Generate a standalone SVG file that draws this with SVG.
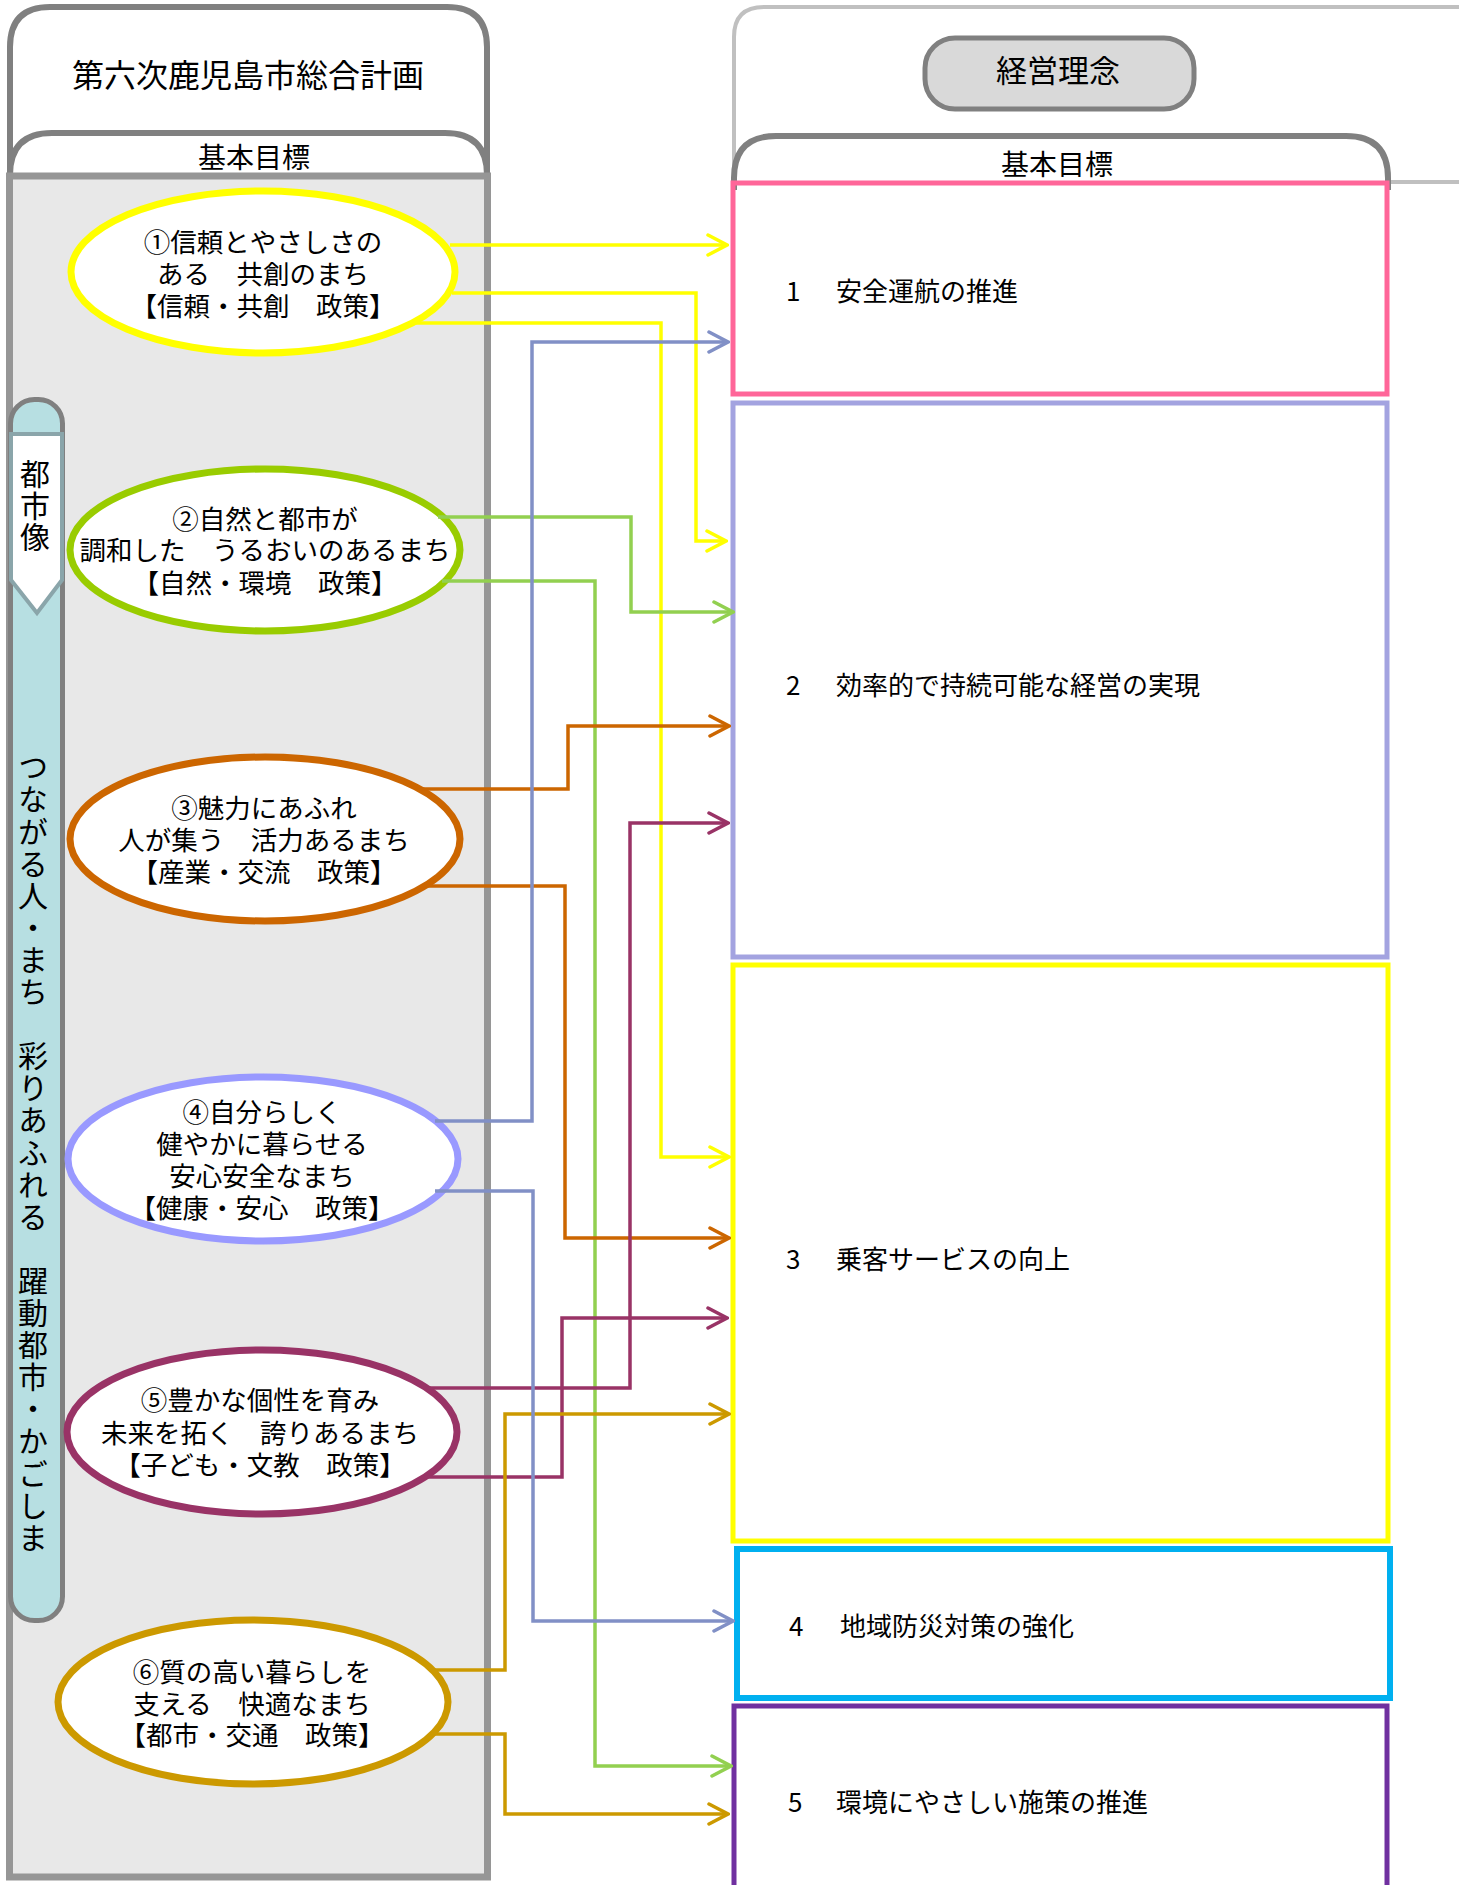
<svg xmlns="http://www.w3.org/2000/svg" width="1459" height="1885" viewBox="0 0 1459 1885">
<style>
text{font-family:"Noto Sans CJK JP","Noto Sans",sans-serif;fill:#000}
.t26{font-size:26.5px;text-anchor:middle}
.tb{font-size:26px}
.vt{font-size:30px;writing-mode:vertical-rl;text-orientation:upright}
.ell{fill:#fff;stroke-width:7}
.box{fill:none;stroke-width:5}
.c{fill:none;stroke-width:3.5}
.mk{fill:none;stroke-width:3.5;stroke-linecap:round;stroke-linejoin:miter}
</style>
<defs>
<marker id="mY" markerUnits="userSpaceOnUse" viewBox="0 0 24 24" markerWidth="24" markerHeight="24" refX="22" refY="12" orient="auto"><path class="mk" stroke="#ffff00" d="M3,2 L22,12 L3,22"/></marker>
<marker id="mG" markerUnits="userSpaceOnUse" viewBox="0 0 24 24" markerWidth="24" markerHeight="24" refX="22" refY="12" orient="auto"><path class="mk" stroke="#92d050" d="M3,2 L22,12 L3,22"/></marker>
<marker id="mO" markerUnits="userSpaceOnUse" viewBox="0 0 24 24" markerWidth="24" markerHeight="24" refX="22" refY="12" orient="auto"><path class="mk" stroke="#cc6600" d="M3,2 L22,12 L3,22"/></marker>
<marker id="mB" markerUnits="userSpaceOnUse" viewBox="0 0 24 24" markerWidth="24" markerHeight="24" refX="22" refY="12" orient="auto"><path class="mk" stroke="#8190c6" d="M3,2 L22,12 L3,22"/></marker>
<marker id="mP" markerUnits="userSpaceOnUse" viewBox="0 0 24 24" markerWidth="24" markerHeight="24" refX="22" refY="12" orient="auto"><path class="mk" stroke="#993366" d="M3,2 L22,12 L3,22"/></marker>
<marker id="mD" markerUnits="userSpaceOnUse" viewBox="0 0 24 24" markerWidth="24" markerHeight="24" refX="22" refY="12" orient="auto"><path class="mk" stroke="#cc9900" d="M3,2 L22,12 L3,22"/></marker>
</defs>
<rect width="1459" height="1885" fill="#fff"/>

<!-- Left frame -->
<g id="left-frame">
<path d="M10,176 V47 Q10,7 50,7 H447 Q487,7 487,47 V176" fill="#fff" stroke="#808080" stroke-width="6"/>
<text x="248" y="87" style="font-size:32px;text-anchor:middle">第六次鹿児島市総合計画</text>
<path d="M10,176 V175 Q10,133 52,133 H445 Q487,133 487,175 V176" fill="#fff" stroke="#808080" stroke-width="6"/>
<text x="254" y="168" style="font-size:28px;text-anchor:middle">基本目標</text>
<rect x="9.5" y="176" width="478" height="1701" fill="#e8e8e8" stroke="#969696" stroke-width="7"/>
</g>

<!-- Side bar -->
<g id="side-bar">
<rect x="10.5" y="399.5" width="52" height="1221" rx="24" fill="#b7dfe2" stroke="#808080" stroke-width="5"/>
<path d="M11,434 H62 V580 L37,613 L11,580 Z" fill="#fff" stroke="#8aa5aa" stroke-width="4"/>
<text class="vt" x="35" y="459" style="letter-spacing:1.5px">都市像</text>
<text class="vt" x="33" y="752" style="letter-spacing:2.1px">つながる人・まち　彩りあふれる　躍動都市・かごしま</text>
</g>

<!-- Right frame -->
<g id="right-frame">
<path d="M734,180 V37 Q734,7 764,7 H1459" fill="none" stroke="#c0c0c0" stroke-width="4"/>
<path d="M1388,182 H1459" fill="none" stroke="#c0c0c0" stroke-width="4"/>
</g>
<g id="keiei-rinen">
<rect x="925" y="38" width="269" height="71" rx="30" fill="#d9d9d9" stroke="#808080" stroke-width="5"/>
<text x="1058" y="82" style="font-size:31px;text-anchor:middle">経営理念</text>
</g>
<g id="right-tab">
<path d="M734,190 V178 Q734,136 776,136 H1346 Q1388,136 1388,178 V190" fill="#fff" stroke="#808080" stroke-width="6"/>
<text x="1057" y="175" style="font-size:28px;text-anchor:middle">基本目標</text>
</g>

<!-- Goal boxes -->
<g id="goal1">
<rect class="box" x="733" y="183" width="654" height="211" stroke="#ff6699"/>
<text class="tb"><tspan x="786" y="301">1</tspan><tspan x="836" y="301">安全運航の推進</tspan></text>
</g>
<g id="goal2">
<rect class="box" x="733" y="403" width="654" height="554" stroke="#a3a3e0"/>
<text class="tb"><tspan x="786" y="695">2</tspan><tspan x="836" y="695">効率的で持続可能な経営の実現</tspan></text>
</g>
<g id="goal3">
<rect class="box" x="733" y="965" width="655" height="576" stroke="#ffff00"/>
<text class="tb"><tspan x="786" y="1269">3</tspan><tspan x="836" y="1269">乗客サービスの向上</tspan></text>
</g>
<g id="goal4">
<rect x="737" y="1549" width="653" height="149" fill="none" stroke="#00b0f0" stroke-width="6"/>
<text class="tb"><tspan x="789" y="1636">4</tspan><tspan x="840" y="1636">地域防災対策の強化</tspan></text>
</g>
<g id="goal5">
<rect class="box" x="734" y="1706" width="653" height="200" stroke="#7030a0"/>
<text class="tb"><tspan x="788" y="1812">5</tspan><tspan x="836" y="1812">環境にやさしい施策の推進</tspan></text>
</g>

<!-- Policy ellipses -->
<g id="policy1">
<ellipse class="ell" cx="263" cy="272" rx="192" ry="81" stroke="#ffff00"/>
<text class="t26"><tspan x="263" y="252">①信頼とやさしさの</tspan><tspan x="263" y="284">ある　共創のまち</tspan><tspan x="263" y="316">【信頼・共創　政策】</tspan></text>
</g>
<g id="policy2">
<ellipse class="ell" cx="265" cy="550" rx="195" ry="81" stroke="#99cc00"/>
<text class="t26"><tspan x="265" y="529">②自然と都市が</tspan><tspan x="265" y="560">調和した　うるおいのあるまち</tspan><tspan x="265" y="593">【自然・環境　政策】</tspan></text>
</g>
<g id="policy3">
<ellipse class="ell" cx="265" cy="839" rx="195" ry="82" stroke="#cc6600" stroke-width="8"/>
<text class="t26"><tspan x="264" y="818">③魅力にあふれ</tspan><tspan x="264" y="850">人が集う　活力あるまち</tspan><tspan x="264" y="882">【産業・交流　政策】</tspan></text>
</g>
<g id="policy4">
<ellipse class="ell" cx="263" cy="1159" rx="195" ry="82" stroke="#9999ff"/>
<text class="t26"><tspan x="262" y="1122">④自分らしく</tspan><tspan x="262" y="1154">健やかに暮らせる</tspan><tspan x="262" y="1186">安心安全なまち</tspan><tspan x="262" y="1218">【健康・安心　政策】</tspan></text>
</g>
<g id="policy5">
<ellipse class="ell" cx="262" cy="1432" rx="195" ry="82" stroke="#993366"/>
<text class="t26"><tspan x="260" y="1410">⑤豊かな個性を育み</tspan><tspan x="260" y="1443">未来を拓く　誇りあるまち</tspan><tspan x="260" y="1475">【子ども・文教　政策】</tspan></text>
</g>
<g id="policy6">
<ellipse class="ell" cx="253" cy="1702" rx="195" ry="82" stroke="#cc9900"/>
<text class="t26"><tspan x="252" y="1682">⑥質の高い暮らしを</tspan><tspan x="252" y="1714">支える　快適なまち</tspan><tspan x="252" y="1745">【都市・交通　政策】</tspan></text>
</g>

<!-- Connectors -->
<g id="connectors">
<path class="c" stroke="#ffff00" marker-end="url(#mY)" d="M450,245 H727"/>
<path class="c" stroke="#ffff00" marker-end="url(#mY)" d="M452,293 H696 V541 H726"/>
<path class="c" stroke="#ffff00" marker-end="url(#mY)" d="M408,323 H661 V1157 H729"/>
<path class="c" stroke="#92d050" marker-end="url(#mG)" d="M438,517 H631 V612 H733"/>
<path class="c" stroke="#92d050" marker-end="url(#mG)" d="M442,581 H595 V1766 H731"/>
<path class="c" stroke="#cc6600" marker-end="url(#mO)" d="M420,789 H568 V726 H729"/>
<path class="c" stroke="#cc6600" marker-end="url(#mO)" d="M422,886 H565 V1238 H729"/>
<path class="c" stroke="#993366" marker-end="url(#mP)" d="M425,1388 H630 V823 H728"/>
<path class="c" stroke="#993366" marker-end="url(#mP)" d="M424,1477 H562 V1318 H727"/>
<path class="c" stroke="#cc9900" marker-end="url(#mD)" d="M432,1670 H505 V1414 H729"/>
<path class="c" stroke="#cc9900" marker-end="url(#mD)" d="M432,1734 H505 V1814 H728"/>
<path class="c" stroke="#8190c6" marker-end="url(#mB)" d="M435,1121 H532 V342 H728"/>
<path class="c" stroke="#8190c6" marker-end="url(#mB)" d="M435,1191 H533 V1621 H733"/>
</g>
</svg>
